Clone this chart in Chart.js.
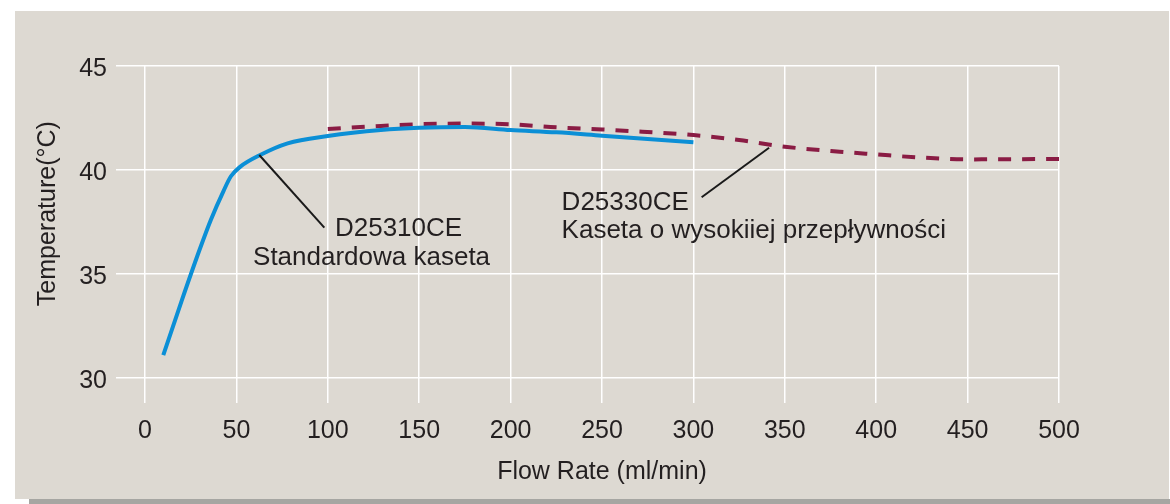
<!DOCTYPE html>
<html>
<head>
<meta charset="utf-8">
<script src="https://cdn.jsdelivr.net/npm/chart.js@4/dist/chart.umd.min.js"></script>
<style>
  html, body { margin: 0; padding: 0; background: #ffffff; width: 1170px; height: 504px; overflow: hidden; }
  #panel { position: absolute; left: 15px; top: 11px; width: 1154px; height: 488px; background: #ddd9d2; }
  #strip { position: absolute; left: 29px; top: 499px; width: 1141px; height: 5px; background: #a6a6a2; }
  #wrap { position: absolute; left: 0; top: 0; width: 1170px; height: 504px; }
</style>
</head>
<body>
<div id="panel"></div>
<div id="strip"></div>
<div id="wrap"><canvas id="c" width="1170" height="504"></canvas></div>
<script>
// ---- data ----
const standardX = [10, 20, 30, 36, 43, 47, 52, 63, 78, 100, 129, 150, 175, 200, 225, 250, 275, 300];
const standardY = [31.1, 33.7, 36.2, 37.6, 39.0, 39.7, 40.15, 40.72, 41.28, 41.63, 41.92, 42.03, 42.07, 41.92, 41.81, 41.65, 41.49, 41.33];
const highFlowX = [100, 129, 150, 175, 200, 225, 250, 272, 300, 325, 350, 380, 400, 422, 450, 475, 500];
const highFlowY = [41.97, 42.12, 42.2, 42.23, 42.2, 42.05, 41.95, 41.84, 41.68, 41.44, 41.12, 40.88, 40.75, 40.61, 40.51, 40.52, 40.53];
const xTicks = [0, 50, 100, 150, 200, 250, 300, 350, 400, 450, 500];
const yTicks = [30, 35, 40, 45];
const xTitle = 'Flow Rate (ml/min)';
const yTitle = 'Temperature(°C)';
const standardLabel = ['D25310CE', 'Standardowa kaseta'];
const highFlowLabel = ['D25330CE', 'Kaseta o wysokiiej przepływności'];
// annotation anchors in data units: leader line [x1,y1,x2,y2], text line positions
const standardLeader = [62.5, 40.72, 98.1, 37.23];
const standardTextPos = [[103.9, 36.83], [59.1, 35.43]];
const highFlowLeader = [304.5, 38.69, 341.4, 41.07];
const highFlowTextPos = [[227.9, 38.08], [227.9, 36.73]];
// y-axis title centre in data units (y)
const yTitleCenterValue = 37.9;

const textColor = '#231f20';
const fontFamily = '"Liberation Sans", Arial, Helvetica, sans-serif';

const toPts = (xs, ys) => xs.map((x, i) => ({x: x, y: ys[i]}));

const annotationPlugin = {
  id: 'annot',
  afterDatasetsDraw(chart) {
    const {ctx, scales: {x, y}} = chart;
    const groups = [
      [standardLeader, standardTextPos, standardLabel],
      [highFlowLeader, highFlowTextPos, highFlowLabel]
    ];
    ctx.save();
    groups.forEach(([ld, pos, lbl]) => {
      ctx.beginPath();
      ctx.strokeStyle = '#1a1a1a';
      ctx.lineWidth = 2;
      ctx.moveTo(x.getPixelForValue(ld[0]), y.getPixelForValue(ld[1]));
      ctx.lineTo(x.getPixelForValue(ld[2]), y.getPixelForValue(ld[3]));
      ctx.stroke();
      ctx.fillStyle = textColor;
      ctx.font = '26px ' + fontFamily;
      ctx.textAlign = 'left';
      ctx.textBaseline = 'alphabetic';
      lbl.forEach((t, i) => {
        ctx.fillText(t, x.getPixelForValue(pos[i][0]), y.getPixelForValue(pos[i][1]));
      });
    });
    // y-axis title
    ctx.translate(48, y.getPixelForValue(yTitleCenterValue));
    ctx.rotate(-Math.PI / 2);
    ctx.font = '25px ' + fontFamily;
    ctx.textAlign = 'center';
    ctx.textBaseline = 'middle';
    ctx.fillStyle = textColor;
    ctx.fillText(yTitle, 0, 0);
    ctx.restore();
  }
};

new Chart(document.getElementById('c'), {
  type: 'line',
  data: {
    datasets: [
      {
        label: standardLabel[0],
        data: toPts(standardX, standardY),
        borderColor: '#0b8fd6',
        borderWidth: 4,
        pointRadius: 0,
        fill: false,
        cubicInterpolationMode: 'monotone'
      },
      {
        label: highFlowLabel[0],
        data: toPts(highFlowX, highFlowY),
        borderColor: '#8a1c44',
        borderWidth: 4,
        borderDash: [13, 11],
        pointRadius: 0,
        fill: false,
        cubicInterpolationMode: 'monotone'
      }
    ]
  },
  options: {
    responsive: false,
    animation: false,
    events: [],
    layout: { padding: { left: 0, top: 66, right: 111, bottom: 0 } },
    plugins: { legend: { display: false }, tooltip: { enabled: false } },
    scales: {
      x: {
        type: 'linear',
        min: 0, max: 500,
        afterBuildTicks: s => { s.ticks = xTicks.map(v => ({value: v})); },
        afterFit: s => { s.height = 126; },
        grid: { color: '#ffffff', lineWidth: 1.5, tickLength: 25, tickColor: '#ffffff', drawTicks: true },
        border: { display: false },
        ticks: { color: textColor, font: { family: fontFamily, size: 25 }, padding: 13, maxRotation: 0, autoSkip: false },
        title: { display: true, text: xTitle, color: textColor, font: { family: fontFamily, size: 25 }, padding: { top: 0, bottom: 17 } }
      },
      y: {
        type: 'linear',
        min: 30, max: 45,
        afterBuildTicks: s => { s.ticks = yTicks.map(v => ({value: v})); },
        afterFit: s => { s.width = 145; },
        grid: { color: '#ffffff', lineWidth: 1.5, tickLength: 29, tickColor: '#ffffff', drawTicks: true },
        border: { display: false },
        ticks: { color: textColor, font: { family: fontFamily, size: 25 }, padding: 9, labelOffset: 3, autoSkip: false },
        title: { display: false, text: yTitle }
      }
    }
  },
  plugins: [annotationPlugin]
});
</script>
</body>
</html>
